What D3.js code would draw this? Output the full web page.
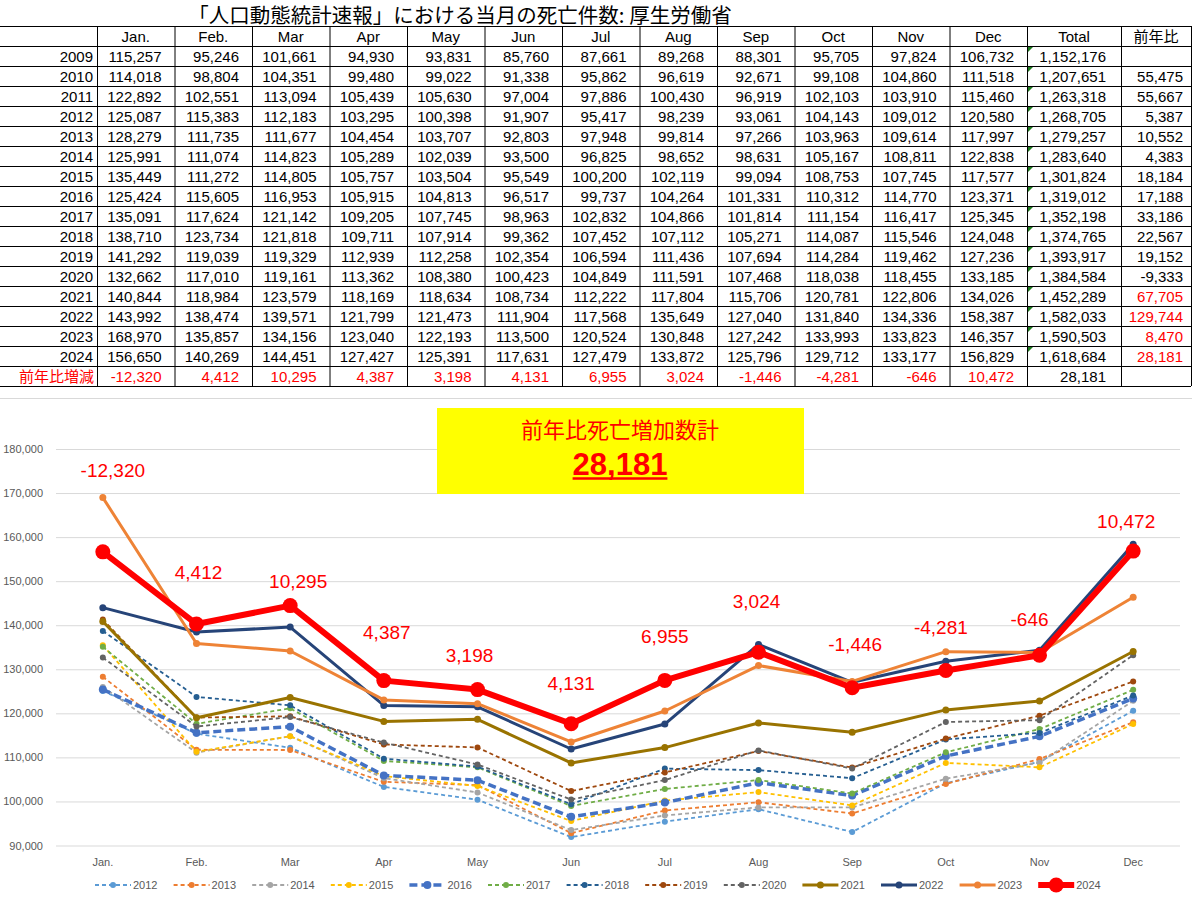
<!DOCTYPE html>
<html lang="ja">
<head>
<meta charset="utf-8">
<title>人口動態統計速報 死亡件数</title>
<script src="https://d3js.org/d3.v7.min.js"></script>
<style>
  body { margin: 0; background: #fff; }
  svg { display: block; font-family: "Liberation Sans", Arial, sans-serif; }
  .jp { font-family: "Noto Sans CJK JP", sans-serif; }
</style>
</head>
<body>
<script>
const months = ["Jan.", "Feb.", "Mar", "Apr", "May", "Jun", "Jul", "Aug", "Sep", "Oct", "Nov", "Dec"];
const years = [2009, 2010, 2011, 2012, 2013, 2014, 2015, 2016, 2017, 2018, 2019, 2020, 2021, 2022, 2023, 2024];

const d2009 = [115257, 95246, 101661, 94930, 93831, 85760, 87661, 89268, 88301, 95705, 97824, 106732];
const d2010 = [114018, 98804, 104351, 99480, 99022, 91338, 95862, 96619, 92671, 99108, 104860, 111518];
const d2011 = [122892, 102551, 113094, 105439, 105630, 97004, 97886, 100430, 96919, 102103, 103910, 115460];
const d2012 = [125087, 115383, 112183, 103295, 100398, 91907, 95417, 98239, 93061, 104143, 109012, 120580];
const d2013 = [128279, 111735, 111677, 104454, 103707, 92803, 97948, 99814, 97266, 103963, 109614, 117997];
const d2014 = [125991, 111074, 114823, 105289, 102039, 93500, 96825, 98652, 98631, 105167, 108811, 122838];
const d2015 = [135449, 111272, 114805, 105757, 103504, 95549, 100200, 102119, 99094, 108753, 107745, 117577];
const d2016 = [125424, 115605, 116953, 105915, 104813, 96517, 99737, 104264, 101331, 110312, 114770, 123371];
const d2017 = [135091, 117624, 121142, 109205, 107745, 98963, 102832, 104866, 101814, 111154, 116417, 125345];
const d2018 = [138710, 123734, 121818, 109711, 107914, 99362, 107452, 107112, 105271, 114087, 115546, 124048];
const d2019 = [141292, 119039, 119329, 112939, 112258, 102354, 106594, 111436, 107694, 114284, 119462, 127236];
const d2020 = [132662, 117010, 119161, 113362, 108380, 100423, 104849, 111591, 107468, 118038, 118455, 133185];
const d2021 = [140844, 118984, 123579, 118169, 118634, 108734, 112222, 117804, 115706, 120781, 122806, 134026];
const d2022 = [143992, 138474, 139571, 121799, 121473, 111904, 117568, 135649, 127040, 131840, 134336, 158387];
const d2023 = [168970, 135857, 134156, 123040, 122193, 113500, 120524, 130848, 127242, 133993, 133823, 146357];
const d2024 = [156650, 140269, 144451, 127427, 125391, 117631, 127479, 133872, 125796, 129712, 133177, 156829];

const totals = [1152176, 1207651, 1263318, 1268705, 1279257, 1283640, 1301824, 1319012,
                1352198, 1374765, 1393917, 1384584, 1452289, 1582033, 1590503, 1618684];
const yoy = [null, 55475, 55667, 5387, 10552, 4383, 18184, 17188, 33186, 22567, 19152, -9333, 67705, 129744, 8470, 28181];
const yoyRed = [2021, 2022, 2023, 2024];
const monthDiff = [-12320, 4412, 10295, 4387, 3198, 4131, 6955, 3024, -1446, -4281, -646, 10472];
const diffTotal = 28181;

const chartYears = [2012, 2013, 2014, 2015, 2016, 2017, 2018, 2019, 2020, 2021, 2022, 2023, 2024];
const yTicks = [90000, 100000, 110000, 120000, 130000, 140000, 150000, 160000, 170000, 180000];

const deaths = {2009: d2009, 2010: d2010, 2011: d2011, 2012: d2012, 2013: d2013, 2014: d2014,
                2015: d2015, 2016: d2016, 2017: d2017, 2018: d2018, 2019: d2019, 2020: d2020,
                2021: d2021, 2022: d2022, 2023: d2023, 2024: d2024};

// line styles per year
const dash = "4 3";
const styles = {
  2012: {color: "#5B9BD5", w: 1.8, dash: dash, r: 3},
  2013: {color: "#ED7D31", w: 1.8, dash: dash, r: 3},
  2014: {color: "#A5A5A5", w: 1.8, dash: dash, r: 3},
  2015: {color: "#FFC000", w: 1.8, dash: dash, r: 3},
  2016: {color: "#4472C4", w: 3.5, dash: "8 4", r: 4},
  2017: {color: "#70AD47", w: 1.8, dash: dash, r: 3},
  2018: {color: "#255E91", w: 1.8, dash: dash, r: 3},
  2019: {color: "#9E480E", w: 1.8, dash: dash, r: 3},
  2020: {color: "#636363", w: 1.8, dash: dash, r: 3},
  2021: {color: "#997300", w: 3, dash: null, r: 3.5},
  2022: {color: "#264478", w: 3, dash: null, r: 3.5},
  2023: {color: "#EE8336", w: 3, dash: null, r: 3.5},
  2024: {color: "#FF0000", w: 6, dash: null, r: 7.5}
};

const W = 1192, H = 897;
// plain hyphen for negatives, like excel
const fmt = d3.formatLocale({decimal: ".", thousands: ",", grouping: [3], currency: ["", ""], minus: "-"}).format(",");
const red = "#FF0000";

const svg = d3.select("body").append("svg")
    .attr("width", W)
    .attr("height", H);

// ---- title ----
svg.append("text")
    .attr("class", "jp")
    .attr("x", 460)
    .attr("y", 23)
    .attr("text-anchor", "middle")
    .attr("font-size", 20.5)
    .text("「人口動態統計速報」における当月の死亡件数: 厚生労働省");

// ---- table ----
const rowH = 20, tableTop = 26;
const colEdges = [0, 97];
for (let i = 1; i <= 12; i++) colEdges.push(97 + i * 77.5);
colEdges.push(1121);
colEdges.push(1191);
const nRows = years.length + 2;
const tableBottom = tableTop + nRows * rowH;

const table = svg.append("g").attr("font-size", 15);

// borders
table.selectAll("line.h")
  .data(d3.range(nRows + 1))
  .enter().append("line")
    .attr("x1", 0).attr("x2", colEdges[colEdges.length - 1])
    .attr("y1", d => tableTop + d * rowH + 0.5)
    .attr("y2", d => tableTop + d * rowH + 0.5)
    .attr("stroke", "#000");
table.selectAll("line.v")
  .data(colEdges.slice(1))
  .enter().append("line")
    .attr("x1", d => d + 0.5).attr("x2", d => d + 0.5)
    .attr("y1", tableTop).attr("y2", tableBottom)
    .attr("stroke", "#000");

function cellText(row, col, txt, opts) {
  opts = opts || {};
  const x0 = colEdges[col], x1 = colEdges[col + 1];
  const t = table.append("text")
      .attr("y", tableTop + row * rowH + rowH / 2 + 5.5)
      .attr("fill", opts.color || "#000")
      .text(txt);
  if (opts.jp) t.attr("class", "jp");
  if (opts.align === "middle") {
    t.attr("x", (x0 + x1) / 2).attr("text-anchor", "middle");
  } else {
    t.attr("x", x1 - (opts.pad == null ? 13 : opts.pad)).attr("text-anchor", "end");
  }
}

// header row
months.forEach((m, i) => cellText(0, i + 1, m, {align: "middle"}));
cellText(0, 13, "Total", {align: "middle"});
cellText(0, 14, "前年比", {align: "middle", jp: true});

// year rows
years.forEach((yr, r) => {
  const row = r + 1;
  cellText(row, 0, yr, {pad: 4});
  deaths[yr].forEach((v, i) => cellText(row, i + 1, fmt(v)));
  cellText(row, 13, fmt(totals[r]), {pad: 15});
  if (yoy[r] != null) {
    cellText(row, 14, fmt(yoy[r]), {pad: 8, color: yoyRed.includes(yr) ? red : "#000"});
  }
  // excel's green corner marks on the total cells
  const tx = colEdges[13] + 1, ty = tableTop + row * rowH + 1;
  table.append("path")
      .attr("d", `M${tx},${ty}L${tx + 5},${ty}L${tx},${ty + 5}Z`)
      .attr("fill", "#1E7B1E");
});

// diff row
const diffRow = years.length + 1;
cellText(diffRow, 0, "前年比増減", {pad: 3, color: red, jp: true});
monthDiff.forEach((v, i) => cellText(diffRow, i + 1, fmt(v), {color: red}));
cellText(diffRow, 13, fmt(diffTotal), {pad: 15});

// chart outline
svg.append("line")
    .attr("x1", 0).attr("x2", W)
    .attr("y1", 398.5).attr("y2", 398.5)
    .attr("stroke", "#d9d9d9");

// ---- chart ----
const xScale = d3.scaleBand().domain(months).range([56, 1180]);
const yScale = d3.scaleLinear().domain([90000, 180000]).range([845.5, 449]);
const cx = m => xScale(m) + xScale.bandwidth() / 2;

const yAxis = d3.axisLeft(yScale)
    .tickValues(yTicks)
    .tickSize(-(1180 - 56))
    .tickPadding(13)
    .tickFormat(fmt);
const gy = svg.append("g")
    .attr("transform", "translate(56,0)")
    .call(yAxis);
gy.select(".domain").remove();
gy.selectAll(".tick line").attr("stroke", "#d9d9d9");
gy.selectAll(".tick text")
    .attr("fill", "#595959")
    .attr("font-size", 11)
    .attr("font-family", "Liberation Sans, Arial, sans-serif");

const xAxis = d3.axisBottom(xScale).tickSize(0).tickPadding(12.5);
const gx = svg.append("g")
    .attr("transform", "translate(0,845.5)")
    .call(xAxis);
gx.select(".domain").remove();
gx.selectAll(".tick text")
    .attr("fill", "#595959")
    .attr("font-size", 11)
    .attr("font-family", "Liberation Sans, Arial, sans-serif");

// yellow summary box
svg.append("rect")
    .attr("x", 437).attr("y", 408)
    .attr("width", 367).attr("height", 86)
    .attr("fill", "#FFFF00");
svg.append("text")
    .attr("class", "jp")
    .attr("x", 620).attr("y", 438)
    .attr("text-anchor", "middle")
    .attr("font-size", 22)
    .attr("fill", red)
    .text("前年比死亡増加数計");
const bigNum = svg.append("text")
    .attr("x", 620).attr("y", 475)
    .attr("text-anchor", "middle")
    .attr("font-size", 31)
    .attr("font-weight", "bold")
    .attr("fill", red)
    .text(fmt(diffTotal));
const bw = bigNum.node().getComputedTextLength();
svg.append("line")
    .attr("x1", 620 - bw / 2).attr("x2", 620 + bw / 2)
    .attr("y1", 478.5).attr("y2", 478.5)
    .attr("stroke", red)
    .attr("stroke-width", 2.5);

// series
const line = d3.line()
    .x((d, i) => cx(months[i]))
    .y(d => yScale(d));

const series = svg.append("g").attr("id", "series");
chartYears.forEach(yr => {
  const s = styles[yr];
  const g = series.append("g");
  g.append("path")
      .datum(deaths[yr])
      .attr("d", line)
      .attr("fill", "none")
      .attr("stroke", s.color)
      .attr("stroke-width", s.w)
      .attr("stroke-dasharray", s.dash)
      .attr("stroke-linejoin", "round");
  g.selectAll("circle")
    .data(deaths[yr])
    .enter().append("circle")
      .attr("cx", (d, i) => cx(months[i]))
      .attr("cy", d => yScale(d))
      .attr("r", s.r)
      .attr("fill", s.color);
});

// data labels over 2024 (nudged by hand like the original)
const labelLift = [82, 52, 24, 48, 34, 41, 44, 51, 44, 43, 36, 30];
const labelShift = [10, 2, 8, 3, -8, 0, 0, -2, 3, -5, -10, -7];
svg.append("g").selectAll("text")
  .data(monthDiff)
  .enter().append("text")
    .attr("x", (d, i) => cx(months[i]) + labelShift[i])
    .attr("y", (d, i) => yScale(d2024[i]) - labelLift[i])
    .attr("dy", "0.36em")
    .attr("text-anchor", "middle")
    .attr("font-size", 19)
    .attr("fill", red)
    .text(d => fmt(d));

// legend
const legend = svg.append("g").attr("transform", "translate(95,885)");
chartYears.forEach((yr, i) => {
  const s = styles[yr];
  const g = legend.append("g").attr("transform", `translate(${i * 78.6},0)`);
  g.append("line")
      .attr("x1", 0).attr("x2", 36)
      .attr("stroke", s.color)
      .attr("stroke-width", s.w)
      .attr("stroke-dasharray", s.dash);
  g.append("circle")
      .attr("cx", 18)
      .attr("r", s.r)
      .attr("fill", s.color);
  g.append("text")
      .attr("x", 38).attr("y", 4)
      .attr("font-size", 11)
      .attr("fill", "#595959")
      .text(yr);
});
</script>
</body>
</html>
